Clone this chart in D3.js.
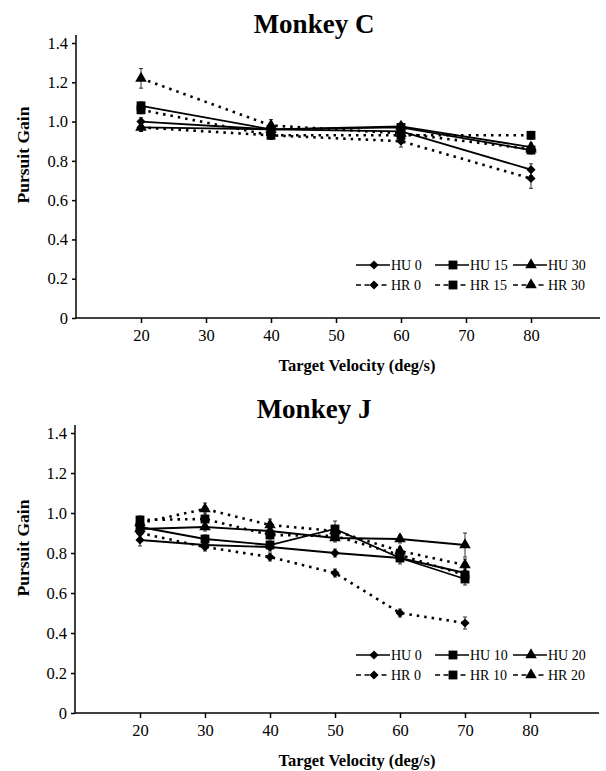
<!DOCTYPE html>
<html>
<head>
<meta charset="utf-8">
<script src="https://cdn.jsdelivr.net/npm/d3@7"></script>
<style>
  body { margin: 0; background: #fff; }
  svg, svg text { font-family: "Liberation Serif", "Times New Roman", "DejaVu Serif", serif; fill: #000; }
  .axis path, .axis line { stroke: #000; stroke-width: 1.5; }
  .axis text { font-size: 16.5px; }
</style>
</head>
<body>
<div id="chart"></div>
<script>
// ---- data ----
const yTicks = [0, 0.2, 0.4, 0.6, 0.8, 1.0, 1.2, 1.4];
const xTicks = [20, 30, 40, 50, 60, 70, 80];

// Monkey C
const velC = [20, 40, 60, 80];
const seriesC = ["HU 0", "HU 15", "HU 30", "HR 0", "HR 15", "HR 30"];
const hu0C  = [1.00, 0.96, 0.95, 0.755];
const hu15C = [1.08, 0.96, 0.97, 0.855];
const hu30C = [0.97, 0.96, 0.975, 0.87];
const hr0C  = [0.97, 0.93, 0.90, 0.71];
const hr15C = [1.06, 0.93, 0.93, 0.93];
const hr30C = [1.22, 0.98, 0.94, 0.86];
const errC  = [
  [0.02, 0.02, 0.02, 0.03],
  [0.02, 0.02, 0.02, 0.02],
  [0.02, 0.02, 0.02, 0.02],
  [0.02, 0.02, 0.03, 0.05],
  [0.02, 0.02, 0.02, 0.02],
  [0.05, 0.03, 0.02, 0.02]
];

// Monkey J
const velJ = [20, 30, 40, 50, 60, 70];
const seriesJ = ["HU 0", "HU 10", "HU 20", "HR 0", "HR 10", "HR 20"];
const hu0J  = [0.865, 0.84, 0.83, 0.80, 0.775, 0.70];
const hu10J = [0.93, 0.87, 0.84, 0.92, 0.775, 0.67];
const hu20J = [0.92, 0.93, 0.91, 0.875, 0.87, 0.84];
const hr0J  = [0.90, 0.83, 0.78, 0.70, 0.50, 0.45];
const hr10J = [0.965, 0.97, 0.89, 0.885, 0.79, 0.69];
const hr20J = [0.95, 1.02, 0.94, 0.91, 0.81, 0.74];
const errJ  = [
  [0.03, 0.02, 0.02, 0.02, 0.02, 0.03],
  [0.03, 0.02, 0.02, 0.04, 0.03, 0.03],
  [0.02, 0.02, 0.02, 0.02, 0.02, 0.06],
  [0.02, 0.02, 0.02, 0.02, 0.02, 0.03],
  [0.02, 0.03, 0.02, 0.02, 0.03, 0.03],
  [0.02, 0.03, 0.03, 0.02, 0.02, 0.03]
];

const markerOf = ["diamond", "square", "triangle", "diamond", "square", "triangle"];
const serif = '"Liberation Serif", "Times New Roman", "DejaVu Serif", serif';

const svg = d3.select("#chart").append("svg")
  .attr("width", 606).attr("height", 771)
  .attr("font-family", serif);

function markerPath(kind) {
  if (kind === "square") return d3.symbol().type(d3.symbolSquare).size(78)();
  if (kind === "triangle") return d3.symbol().type(d3.symbolTriangle).size(58)();
  return d3.symbol().type(d3.symbolSquare).size(42)(); // rotated later
}

function drawMarker(g, kind, x, y) {
  g.append("path")
    .attr("d", markerPath(kind))
    .attr("transform", `translate(${x},${y})` + (kind === "diamond" ? " rotate(45)" : ""))
    .attr("fill", "#000");
}

function drawPanel(p) {
  const x = d3.scaleLinear().domain([10, 90]).range([p.left, p.right]);
  const y = d3.scaleLinear().domain([0, 1.4]).range([p.bottom, p.top]);
  const g = svg.append("g");

  // axes
  g.append("g").attr("class", "axis")
    .attr("transform", `translate(${p.left},0)`)
    .call(d3.axisLeft(y).tickValues(yTicks).tickSize(4).tickSizeOuter(0)
      .tickFormat(d => d === 0 ? "0" : d3.format(".1f")(d)))
    .attr("font-family", serif).attr("font-size", 16.5)
    .call(a => a.select(".domain").attr("d", `M0,${p.bottom}V${p.top - 8}`))
    .selectAll("text").attr("dx", "-1");

  g.append("g").attr("class", "axis")
    .attr("transform", `translate(0,${p.bottom})`)
    .call(d3.axisBottom(x).tickValues(xTicks).tickSize(5).tickSizeOuter(0).tickPadding(6))
    .attr("font-family", serif).attr("font-size", 16.5)
    .call(a => a.select(".domain").attr("d", `M${p.left},0H${p.right + 4}`));

  // titles
  g.append("text").attr("x", 314).attr("y", p.titleY)
    .attr("text-anchor", "middle").attr("font-weight", "bold").attr("font-size", 27)
    .text(p.title);
  g.append("text").attr("x", 357).attr("y", p.bottom + 53)
    .attr("text-anchor", "middle").attr("font-weight", "bold").attr("font-size", 16.5)
    .text("Target Velocity (deg/s)");
  g.append("text")
    .attr("transform", `translate(29,${p.labelY}) rotate(-90)`)
    .attr("text-anchor", "middle").attr("font-weight", "bold").attr("font-size", 17.5)
    .text("Pursuit Gain");

  const line = d3.line().x((d, i) => x(p.vel[i])).y(d => y(d));

  p.values.forEach((vals, s) => {
    const dashed = s >= 3;
    g.append("path").datum(vals)
      .attr("d", line).attr("fill", "none").attr("stroke", "#000")
      .attr("stroke-width", dashed ? 2.6 : 1.8)
      .attr("stroke-dasharray", dashed ? "2.5,5" : null);
    // error bars
    vals.forEach((v, i) => {
      const e = p.err[s][i], cx = x(p.vel[i]);
      g.append("path")
        .attr("d", `M${cx},${y(v - e)}V${y(v + e)}M${cx - 2},${y(v - e)}H${cx + 2}M${cx - 2},${y(v + e)}H${cx + 2}`)
        .attr("stroke", "#000").attr("stroke-width", 0.8).attr("fill", "none");
    });
    vals.forEach((v, i) => drawMarker(g, markerOf[s], x(p.vel[i]), y(v)));
  });

  // legend
  const colX = [356, 435, 513];
  p.names.forEach((name, s) => {
    const lx = colX[s % 3], ly = s < 3 ? p.legendY : p.legendY + 20;
    const dashed = s >= 3;
    g.append("line").attr("x1", lx).attr("x2", lx + 34).attr("y1", ly).attr("y2", ly)
      .attr("stroke", "#000").attr("stroke-width", 1.6)
      .attr("stroke-dasharray", dashed ? "5,3.5" : null);
    drawMarker(g, markerOf[s], lx + 18, ly);
    g.append("text").attr("x", lx + 35).attr("y", ly + 5).attr("font-size", 14)
      .text(name);
  });
}

drawPanel({
  title: "Monkey C", titleY: 33, left: 76, right: 596, top: 43, bottom: 318,
  labelY: 155, legendY: 265,
  vel: velC, names: seriesC,
  values: [hu0C, hu15C, hu30C, hr0C, hr15C, hr30C], err: errC
});

drawPanel({
  title: "Monkey J", titleY: 418, left: 75, right: 595, top: 433, bottom: 713,
  labelY: 548, legendY: 655,
  vel: velJ, names: seriesJ,
  values: [hu0J, hu10J, hu20J, hr0J, hr10J, hr20J], err: errJ
});
</script>
</body>
</html>
